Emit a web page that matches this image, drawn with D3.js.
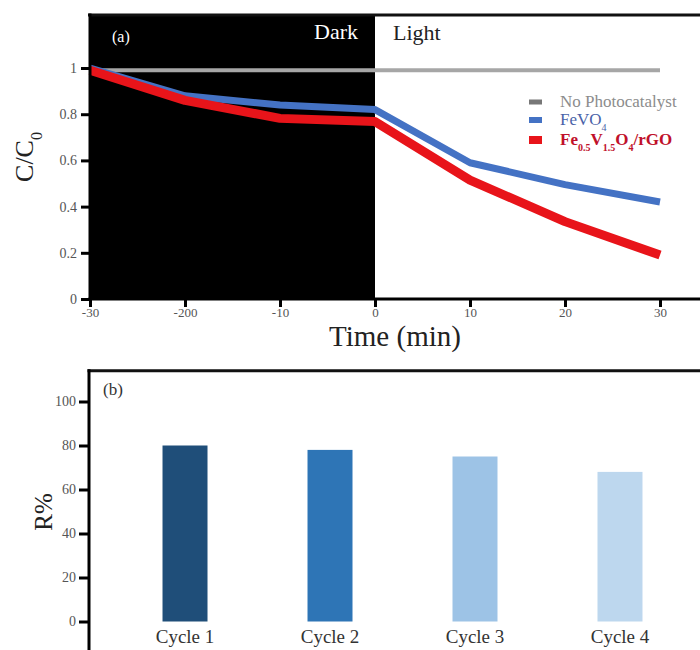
<!DOCTYPE html>
<html>
<head>
<meta charset="utf-8">
<script src="https://cdn.jsdelivr.net/npm/d3@7"></script>
<style>
  html, body { margin: 0; padding: 0; background: #fff; }
  svg { display: block; }
  text { font-family: "Liberation Serif", "Times New Roman", serif; }
</style>
</head>
<body>
<svg id="chart" width="700" height="650"></svg>
<script>
// ---------- DATA ----------
const times = [-30, -20, -10, 0, 10, 20, 30];
const timeTickLabels = ["-30", "-200", "-10", "0", "10", "20", "30"];
const noPhotocatalyst = [0.99, 0.99, 0.99, 0.99, 0.99, 0.99, 0.99];
const feVO4 = [1.0, 0.88, 0.84, 0.82, 0.59, 0.495, 0.42];
const composite = [0.99, 0.86, 0.782, 0.768, 0.515, 0.335, 0.19];
const cTicks = [0, 0.2, 0.4, 0.6, 0.8, 1];
const cTickLabels = ["0", "0.2", "0.4", "0.6", "0.8", "1"];

const cycles = ["Cycle 1", "Cycle 2", "Cycle 3", "Cycle 4"];
const removal = [80, 78, 75, 68];
const rTicks = [0, 20, 40, 60, 80, 100];
const barColors = ["#1f4e79", "#2e75b6", "#9dc3e6", "#bdd7ee"];

const seriesNames = ["No Photocatalyst", "FeVO4", "Fe0.5V1.5O4/rGO"];
const seriesColors = ["#a6a6a6", "#4472c4", "#e8141a"];

const SERIF = '"Liberation Serif", "Times New Roman", serif';

// ---------- SETUP ----------
const svg = d3.select("#chart");

// ===== Panel (a) =====
const xA = d3.scaleLinear().domain([-30, 35]).range([90, 707.5]);
const yA = d3.scaleLinear().domain([0, 1.23]).range([299, 14.9]);

const gA = svg.append("g");

// dark region
gA.append("rect")
  .attr("x", xA(-30) - 1).attr("y", yA(1.23))
  .attr("width", xA(0) - xA(-30) + 1).attr("height", yA(0) - yA(1.23))
  .attr("fill", "#000");

// frame top line
gA.append("line")
  .attr("x1", xA(-30) - 2).attr("x2", 700)
  .attr("y1", yA(1.23)).attr("y2", yA(1.23))
  .attr("stroke", "#111").attr("stroke-width", 3);

// lines
const lineGen = d3.line()
  .x((d, i) => xA(times[i]))
  .y(d => yA(d))
  .curve(d3.curveLinear);

const allSeries = [noPhotocatalyst, feVO4, composite];
const widths = [4, 7, 9];
allSeries.forEach((s, k) => {
  gA.append("path")
    .datum(s)
    .attr("d", lineGen)
    .attr("fill", "none")
    .attr("stroke", seriesColors[k])
    .attr("stroke-width", widths[k])
    .attr("stroke-linejoin", "round")
    .attr("stroke-linecap", "butt");
});

// axes
const axA_y = d3.axisLeft(yA).tickValues(cTicks)
  .tickFormat((d, i) => cTickLabels[i]).tickSize(9).tickPadding(4);
const gAy = gA.append("g").attr("transform", `translate(${xA(-30)},0)`).call(axA_y);
gAy.attr("font-family", null);
gAy.select(".domain").remove();
gAy.selectAll(".tick line").attr("stroke", "#000").attr("stroke-width", 3);
gAy.selectAll(".tick text").attr("fill", "#555").style("font-size", "14px").style("font-family", SERIF);
gA.append("line").attr("x1", xA(-30)).attr("x2", xA(-30))
  .attr("y1", yA(1.23) - 1.5).attr("y2", yA(0) + 1.5)
  .attr("stroke", "#000").attr("stroke-width", 3);

const axA_x = d3.axisBottom(xA).tickValues(times)
  .tickFormat((d, i) => timeTickLabels[i]).tickSize(8).tickPadding(1);
const gAx = gA.append("g").attr("transform", `translate(0,${yA(0)})`).call(axA_x);
gAx.attr("font-family", null);
gAx.select(".domain").remove();
gAx.selectAll(".tick line").attr("stroke", "#000").attr("stroke-width", 3);
gAx.selectAll(".tick text").attr("fill", "#555").style("font-size", "13px").style("font-family", SERIF);
gA.append("line").attr("x1", xA(-30) - 1.5).attr("x2", 700)
  .attr("y1", yA(0)).attr("y2", yA(0))
  .attr("stroke", "#000").attr("stroke-width", 3);

// labels in panel (a)
gA.append("text").attr("x", 112).attr("y", 42)
  .attr("fill", "#fff").style("font-size", "16px").text("(a)");
gA.append("text").attr("x", 358).attr("y", 39).attr("text-anchor", "end")
  .attr("fill", "#fff").style("font-size", "22px").text("Dark");
gA.append("text").attr("x", 393).attr("y", 40)
  .attr("fill", "#222").style("font-size", "22px").text("Light");

// axis titles (a)
gA.append("text").attr("x", 395).attr("y", 346).attr("text-anchor", "middle")
  .attr("fill", "#222").style("font-size", "29px").text("Time (min)");
const ct = gA.append("text")
  .attr("transform", "translate(33,157) rotate(-90)")
  .attr("text-anchor", "middle").attr("fill", "#222").style("font-size", "26px");
ct.append("tspan").text("C/C");
ct.append("tspan").attr("baseline-shift", "sub").style("font-size", "16px").text("0");

// legend
const legY = [102, 120, 140];
const legH = [5, 6, 8];
const legendMarkColors = ["#777", "#4472c4", "#e8141a"];
const legendTextColors = ["#8c8c8c", "#4a62a8", "#c0102a"];
seriesNames.forEach((name, k) => {
  gA.append("rect").attr("x", 529).attr("y", legY[k] - legH[k] / 2)
    .attr("width", 13).attr("height", legH[k]).attr("fill", legendMarkColors[k]);
  const t = gA.append("text").attr("x", 560).attr("y", legY[k] + 5)
    .attr("fill", legendTextColors[k]).style("font-size", "17px");
  if (k === 0) {
    t.text(name);
  } else if (k === 1) {
    t.append("tspan").text("FeVO");
    t.append("tspan").attr("baseline-shift", "sub").style("font-size", "10px").text("4");
  } else {
    t.style("font-weight", "bold");
    t.append("tspan").text("Fe");
    t.append("tspan").attr("baseline-shift", "sub").style("font-size", "10px").text("0.5");
    t.append("tspan").text("V");
    t.append("tspan").attr("baseline-shift", "sub").style("font-size", "10px").text("1.5");
    t.append("tspan").text("O");
    t.append("tspan").attr("baseline-shift", "sub").style("font-size", "10px").text("4");
    t.append("tspan").text("/rGO");
  }
});

// ===== Panel (b) =====
const xB = d3.scaleBand().domain(cycles).range([89, 716])
  .paddingInner(0.6897).paddingOuter(0.507);
const yB = d3.scaleLinear().domain([-14, 114]).range([652.3, 370.7]);

const gB = svg.append("g");

gB.selectAll("rect.bar")
  .data(removal)
  .join("rect")
  .attr("class", "bar")
  .attr("x", (d, i) => xB(cycles[i]))
  .attr("width", xB.bandwidth())
  .attr("y", d => yB(d))
  .attr("height", d => yB(0) - yB(d))
  .attr("fill", (d, i) => barColors[i]);

// frame
gB.append("line").attr("x1", 87.5).attr("x2", 700)
  .attr("y1", yB(114)).attr("y2", yB(114))
  .attr("stroke", "#111").attr("stroke-width", 3);
gB.append("line").attr("x1", 89).attr("x2", 89)
  .attr("y1", yB(114) - 1.5).attr("y2", 652)
  .attr("stroke", "#000").attr("stroke-width", 3);

const axB_y = d3.axisLeft(yB).tickValues(rTicks).tickSize(10).tickPadding(3);
const gBy = gB.append("g").attr("transform", "translate(89,0)").call(axB_y);
gBy.attr("font-family", null);
gBy.select(".domain").remove();
gBy.selectAll(".tick line").attr("stroke", "#000").attr("stroke-width", 3);
gBy.selectAll(".tick text").attr("fill", "#555").style("font-size", "14px").style("font-family", SERIF);

const axB_x = d3.axisBottom(xB).tickSize(0).tickPadding(8);
const gBx = gB.append("g").attr("transform", `translate(0,${yB(0)})`).call(axB_x);
gBx.attr("font-family", null);
gBx.select(".domain").remove();
gBx.selectAll(".tick text").attr("fill", "#333").style("font-size", "19px").style("font-family", SERIF);

gB.append("text").attr("x", 103).attr("y", 395)
  .attr("fill", "#333").style("font-size", "17px").text("(b)");

gB.append("text")
  .attr("transform", "translate(52,512) rotate(-90)")
  .attr("text-anchor", "middle").attr("fill", "#222").style("font-size", "25px")
  .text("R%");
</script>
</body>
</html>
